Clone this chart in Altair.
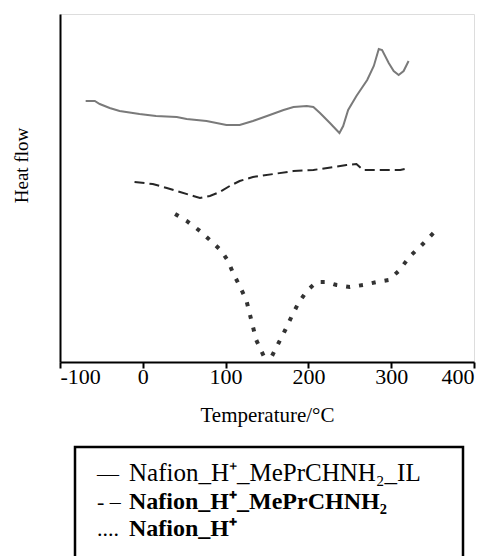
import altair as alt
import pandas as pd

# DSC traces: temperature (°C) and heat flow (arbitrary units, offset per trace)
il_temp = [-69, -58, -52, -40, -28, -4, 16, 41, 53, 77, 101, 117, 133, 150, 170, 182,
           198, 206, 214, 226, 234, 237.5, 242, 248, 258, 271, 279, 285, 289, 297, 303,
           309, 315, 321]
il_heat = [261, 261, 258, 254, 251, 248, 246, 245, 243, 241, 237, 237, 241, 246, 252, 255,
           256, 255, 249, 239, 232, 229, 236, 252, 266, 282, 296, 313, 312, 299, 291,
           287, 291, 301]

am_temp = [-10, 12, 29, 45, 61, 69, 81, 93, 105, 117, 133, 158, 182, 206, 230, 246,
           258, 266, 283, 311, 322]
am_heat = [180, 178, 174, 170, 166, 164, 166, 170, 176, 181, 185, 188, 191, 192, 195, 197,
           198, 192, 192, 192, 194]

h_temp = [39, 53, 69, 85, 95, 103, 109, 117, 125, 131, 137, 146, 156, 164, 172, 180, 188,
          198, 210, 222, 234, 250, 266, 283, 297, 309, 323, 337, 351]
h_heat = [148, 141, 131, 119, 111, 101, 89, 76, 62, 42, 22, 6, 6, 19, 32, 46, 59,
          71, 80, 80, 77, 75, 77, 80, 82, 91, 106, 117, 129]

legend_symbols = ["\u2014", "- \u2013", "...."]
legend_names = ["Nafion_H\u207a_MePrCHNH\u2082_IL", "Nafion_H\u207a_MePrCHNH\u2082", "Nafion_H\u207a"]
legend_weights = ["normal", "bold", "bold"]

x_ticks = [-100, 0, 100, 200, 300, 400]

FONT = "Liberation Serif"
W, H = 414, 348

series = [
    (il_temp, il_heat, "#7a7a7a", 2, None),
    (am_temp, am_heat, "#262626", 2, [10, 5]),
    (h_temp, h_heat, "#333333", 4, [4, 9]),
]

x_scale = alt.Scale(domain=[-100, 400], nice=False, zero=False)
y_scale = alt.Scale(domain=[0, 348], nice=False, zero=False)

x_axis = alt.Axis(
    values=x_ticks,
    labelExpr="replace(datum.label, '\u2212', '-')",
    title="Temperature/\u00b0C",
    grid=False,
    domainColor="black",
    domainWidth=2,
    tickColor="black",
    tickWidth=2,
    tickSize=6,
    labelPadding=-2,
    labelFont=FONT,
    labelFontSize=22,
    labelColor="black",
    titleFont=FONT,
    titleFontSize=21,
    titleFontWeight="normal",
    titleColor="black",
    titleBaseline="alphabetic",
    titleY=59,
)
y_axis = alt.Axis(
    title="Heat flow",
    grid=False,
    ticks=False,
    labels=False,
    domainColor="black",
    domainWidth=2,
    titleFont=FONT,
    titleFontSize=19,
    titleFontWeight="normal",
    titleColor="black",
    titlePadding=29,
    titleY=151,
)

layers = []
for t, q, color, width, dash in series:
    df = pd.DataFrame({"temp": t, "heat": q})
    mark_kw = dict(color=color, strokeWidth=width, strokeCap="butt", strokeJoin="miter")
    if dash:
        mark_kw["strokeDash"] = dash
    layers.append(
        alt.Chart(df).mark_line(**mark_kw).encode(
            x=alt.X("temp:Q", scale=x_scale, axis=x_axis),
            y=alt.Y("heat:Q", scale=y_scale, axis=y_axis),
        )
    )

# Legend panel below the plot: framed box with text symbols and series names
n = len(legend_names)
leg = pd.DataFrame({
    "sym": legend_symbols,
    "name": legend_names,
    "weight": legend_weights,
    "py": [467 + 27.5 * k for k in range(n)],
})

box = alt.Chart(pd.DataFrame({"k": [0]})).mark_rect(
    fill=None, stroke="black", strokeWidth=2.5
).encode(x=alt.value(15), x2=alt.value(403), y=alt.value(433), y2=alt.value(600))

sym_text = alt.Chart(leg).mark_text(
    font=FONT, fontSize=22, align="left", baseline="alphabetic", color="black"
).encode(
    x=alt.value(37),
    y=alt.value(0),
    yOffset=alt.YOffset("py:Q", scale=None),
    text="sym:N",
)

name_layers = []
for w in ["normal", "bold"]:
    name_layers.append(
        alt.Chart(leg[leg["weight"] == w]).mark_text(
            font=FONT, fontSize=25 if w == "normal" else 24, fontWeight=w, align="left",
            baseline="alphabetic", color="black"
        ).encode(
            x=alt.value(69),
            y=alt.value(0),
            yOffset=alt.YOffset("py:Q", scale=None),
            text="name:N",
        )
    )

chart = alt.layer(*layers, box, sym_text, *name_layers).properties(
    width=W,
    height=H,
    autosize=alt.AutoSizeParams(type="none"),
    padding={"left": 60, "top": 14, "right": 20, "bottom": 194},
).configure_view(strokeWidth=0).configure(background="white")

chart.save("out.html", embed_options={"renderer": "svg", "actions": False})
